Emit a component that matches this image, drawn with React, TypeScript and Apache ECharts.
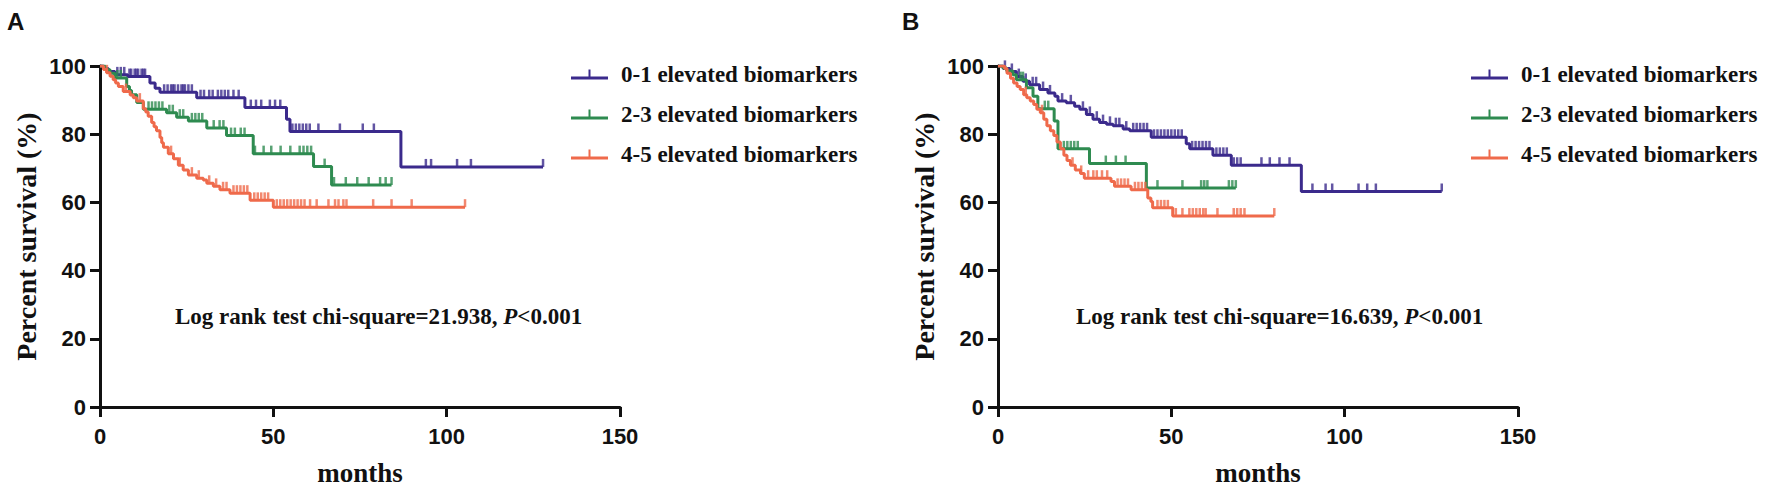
import React, { useEffect, useRef } from "react";
import * as echarts from "echarts";

// ---------- data ----------
const names = ["0-1 elevated biomarkers", "2-3 elevated biomarkers", "4-5 elevated biomarkers"];
const colors = ["#3b2a8c", "#2e8b50", "#ef6a4b"];
const xTicks = { min: 0, max: 150, step: 50 };
const yTicks = { min: 0, max: 100, step: 20 };
const logRankA = "Log rank test chi-square=21.938, ";
const logRankB = "Log rank test chi-square=16.639, ";

// Panel A
const aBlueT = [0, 1, 2.4, 4.3, 8, 14.4, 15.9, 17.3, 27.9, 41.8, 53.8, 54.8, 86.8];
const aBlueS = [100, 99.3, 98.4, 97.4, 96.9, 95, 93.5, 92.3, 90.7, 87.8, 84.4, 80.8, 70.4];
const aBlueC = [5, 6, 7, 8.5, 9, 10, 10.5, 11, 12, 12.5, 13, 18.5, 19.5, 20.5, 21, 21.5, 22.5, 23.5, 24, 24.5, 25.5, 26.5, 29, 30, 31.5, 32.5, 34, 35, 36, 37, 38.5, 40, 43.5, 45, 46.5, 49, 50.5, 52, 55.5, 56.5, 57.5, 58.5, 59.5, 60.5, 63, 69.2, 75.8, 79, 94, 95.5, 103, 107, 127.8];

const aGreenT = [0, 1.5, 2.9, 4.3, 7.7, 8.5, 9.1, 10.6, 12.5, 19.2, 22.1, 25.5, 30.8, 36.5, 44.2, 61.6, 66.8];
const aGreenS = [100, 98.9, 97.9, 96.5, 94, 92.8, 91.6, 89.3, 87.3, 86.3, 85, 83.9, 81.8, 79.6, 74.3, 70.5, 65.1];
const aGreenC = [5, 6, 14, 15, 16, 17, 18, 20, 21, 23, 24, 26.5, 27.5, 28.5, 29.5, 32.8, 34.5, 35.6, 37.8, 38.9, 40.6, 41.7, 44.7, 47.2, 49.4, 52.1, 54.9, 57.6, 58.7, 59.8, 60.9, 64.8, 67.5, 70.9, 74.2, 77.5, 80.8, 82.4, 84.1];

const aOrangeT = [0, 1, 1.9, 2.9, 3.8, 4.5, 5.3, 6.7, 8.7, 9.6, 10.6, 12.5, 13.2, 13.9, 14.9, 15.6, 16.3, 17.3, 17.8, 18.3, 19.7, 21.2, 22.6, 24, 25.5, 27.9, 29.8, 30.8, 32.7, 34.6, 37.5, 43.3, 50];
const aOrangeS = [100, 99, 98, 97, 96, 95, 94, 92.5, 91.5, 90.7, 89.7, 87.5, 86.5, 85.3, 83.4, 82.2, 81, 79, 77.5, 76.2, 74.3, 72.8, 70.9, 69.5, 68, 67.1, 66.6, 65.6, 64.7, 63.7, 62.7, 60.6, 58.6];
const aOrangeC = [2, 7.5, 11.5, 20.5, 23, 26.5, 28.5, 31.5, 33.5, 35.5, 36.5, 38.5, 39.5, 40.5, 41.5, 42.5, 44.5, 45.5, 46.5, 47.5, 48.5, 51, 52, 53, 54, 55, 56, 57, 58, 59, 60.6, 62.5, 65.9, 67.8, 68.8, 70.2, 71.1, 78.8, 84.1, 89.9, 105.3];

// Panel B
const bBlueT = [0, 1.5, 3.4, 5.3, 7.2, 9.1, 12, 14.4, 16.4, 17.3, 19.7, 22.1, 23.6, 25.5, 27.4, 29.3, 31.3, 33.2, 36.1, 38, 44.2, 54.3, 55.3, 62, 67.3, 87.5];
const bBlueS = [100, 99.3, 98.4, 96.9, 95.5, 94.5, 93.1, 92.1, 91.1, 89.7, 89.2, 88.2, 87.3, 85.8, 84.4, 83.4, 82.9, 82.5, 81.5, 81, 79.1, 77.2, 75.7, 73.8, 70.9, 63.2];
const bBlueC = [2, 4, 6, 8, 10, 11, 13, 15, 18.5, 21, 24.5, 26.5, 28.5, 30.3, 32.3, 34, 35, 37, 39, 40, 41, 42, 43, 45, 46, 47, 48, 49, 50, 51, 52, 53, 56, 57, 58, 59, 60, 61, 63, 64, 65, 66, 68, 69, 70, 76, 78.4, 81.2, 84.1, 90.7, 94.5, 96.4, 104, 106.5, 109, 128];

const bGreenT = [0, 1.4, 2.5, 4.3, 5.3, 8.2, 10.1, 11.5, 16.2, 17.3, 26.4, 42.8];
const bGreenS = [100, 99.4, 98.5, 97.4, 96, 93.6, 91.1, 87.5, 83.9, 75.7, 71.4, 64.2];
const bGreenC = [6.5, 7.2, 13.5, 14.5, 19, 20, 21, 22, 23, 31.1, 34, 36.8, 46, 53.2, 58.6, 59.5, 60.4, 66.6, 67.6, 68.6];

const bOrangeT = [0, 1.9, 2.6, 3.6, 4.5, 5.5, 6.4, 7.4, 8.3, 9.3, 10.3, 11.2, 12.2, 13.2, 14.1, 15.1, 16.1, 17, 18, 19, 19.9, 20.9, 22.3, 23.8, 24.9, 32.6, 33.6, 38.4, 43.2, 44.1, 44.6, 50.4];
const bOrangeS = [100, 99.3, 97.9, 96.4, 95, 94, 93.1, 91.6, 90.7, 89.7, 88.7, 87.3, 86.3, 84.4, 82.5, 81, 79.6, 77.7, 75.7, 73.8, 72.3, 70.9, 69.5, 68.5, 67.1, 66.1, 64.7, 63.7, 61.3, 60.3, 58.4, 56];
const bOrangeC = [8, 12.7, 21.5, 24, 26, 27.5, 28.5, 30, 31.5, 34.5, 35.5, 36.5, 37.5, 39.5, 40.5, 41.5, 42.5, 46, 47, 48, 49, 51.3, 53.2, 55.2, 56.2, 57.2, 58.2, 59.2, 59.9, 63.3, 68, 69, 70, 71.1, 79.7];

// ---------- helpers ----------
const SERIF = '"Liberation Serif", "Times New Roman", serif';
const SANS = '"Liberation Sans", Arial, sans-serif';

function survAt(t: number, ts: number[], ss: number[]) {
  let s = ss[0];
  for (let i = 0; i < ts.length; i++) if (ts[i] <= t) s = ss[i];
  return s;
}

function buildSeries(panel: number, idx: number, ts: number[], ss: number[], cs: number[]) {
  const pts: number[][] = ts.map((t, i) => [t, ss[i]]);
  const cens: number[][] = cs.map((t) => [t, survAt(t, ts, ss)]);
  const all = pts.concat(cens).sort((a, b) => a[0] - b[0]);
  return [
    {
      type: "line",
      name: names[idx],
      xAxisIndex: panel,
      yAxisIndex: panel,
      step: "end",
      data: all,
      symbol: "none",
      silent: true,
      lineStyle: { color: colors[idx], width: 3 },
      itemStyle: { color: colors[idx] },
      z: 2 + idx,
    },
    {
      type: "scatter",
      name: names[idx],
      xAxisIndex: panel,
      yAxisIndex: panel,
      data: cens,
      symbol: "rect",
      symbolSize: [2.5, 8],
      symbolOffset: [0, -4],
      silent: true,
      itemStyle: { color: colors[idx] },
      z: 2 + idx,
    },
  ];
}

function xAxis(gi: number) {
  return {
    type: "value",
    gridIndex: gi,
    min: xTicks.min,
    max: xTicks.max,
    interval: xTicks.step,
    name: "months",
    nameLocation: "middle",
    nameGap: 52,
    nameTextStyle: { fontFamily: SERIF, fontWeight: "bold", fontSize: 27, color: "#111" },
    axisLine: { lineStyle: { color: "#111", width: 3 } },
    axisTick: { length: 10, lineStyle: { color: "#111", width: 3 } },
    axisLabel: { fontFamily: SANS, fontWeight: "bold", fontSize: 22, color: "#111", margin: 18 },
    splitLine: { show: false },
  };
}

function yAxis(gi: number) {
  return {
    type: "value",
    gridIndex: gi,
    min: yTicks.min,
    max: yTicks.max,
    interval: yTicks.step,
    name: "Percent survival (%)",
    nameLocation: "middle",
    nameRotate: 90,
    nameGap: 60,
    nameTextStyle: { fontFamily: SERIF, fontWeight: "bold", fontSize: 28, color: "#111" },
    axisLine: { show: true, lineStyle: { color: "#111", width: 3 } },
    axisTick: { show: true, length: 10, lineStyle: { color: "#111", width: 3 } },
    axisLabel: { fontFamily: SANS, fontWeight: "bold", fontSize: 22, color: "#111", margin: 14 },
    splitLine: { show: false },
  };
}

const legendIcon = "path://M0,7L37,7L37,10L0,10Z M17.5,0L19.5,0L19.5,7L17.5,7Z";

function legend(left: number) {
  return {
    left,
    top: 58,
    orient: "vertical",
    itemWidth: 37,
    itemHeight: 10,
    itemGap: 17,
    icon: legendIcon,
    selectedMode: false,
    data: names,
    textStyle: { fontFamily: SERIF, fontWeight: "bold", fontSize: 23, color: "#111", padding: [6, 0, 0, 8] },
  };
}

function logTitle(text: string, left: number) {
  return {
    text: text + "{i|P}<0.001",
    left,
    top: 300,
    textStyle: {
      fontFamily: SERIF,
      fontWeight: "bold",
      fontSize: 23,
      color: "#111",
      rich: { i: { fontFamily: SERIF, fontWeight: "bold", fontStyle: "italic", fontSize: 23, color: "#111" } },
    },
  };
}

export default function App() {
  const ref = useRef<HTMLDivElement>(null);
  useEffect(() => {
    if (!ref.current) return;
    const chart = echarts.init(ref.current, undefined, { renderer: "svg" });
    const series = [
      ...buildSeries(0, 0, aBlueT, aBlueS, aBlueC),
      ...buildSeries(0, 1, aGreenT, aGreenS, aGreenC),
      ...buildSeries(0, 2, aOrangeT, aOrangeS, aOrangeC),
      ...buildSeries(1, 0, bBlueT, bBlueS, bBlueC),
      ...buildSeries(1, 1, bGreenT, bGreenS, bGreenC),
      ...buildSeries(1, 2, bOrangeT, bOrangeS, bOrangeC),
    ];
    chart.setOption({
      animation: false,
      backgroundColor: "#fff",
      title: [
        { text: "A", left: 2, top: 4, textStyle: { fontFamily: SANS, fontWeight: "bold", fontSize: 24, color: "#111" } },
        { text: "B", left: 897, top: 4, textStyle: { fontFamily: SANS, fontWeight: "bold", fontSize: 24, color: "#111" } },
        logTitle(logRankA, 170),
        logTitle(logRankB, 1071),
      ],
      legend: [legend(566), legend(1466)],
      grid: [
        { left: 100, top: 66, width: 520, height: 346 },
        { left: 998, top: 66, width: 520, height: 346 },
      ],
      xAxis: [xAxis(0), xAxis(1)],
      yAxis: [yAxis(0), yAxis(1)],
      series,
    });
    return () => chart.dispose();
  }, []);
  return (
    <div
      ref={ref}
      style={{ position: "fixed", left: 0, top: 0, width: 1772, height: 491, background: "#fff" }}
    />
  );
}
